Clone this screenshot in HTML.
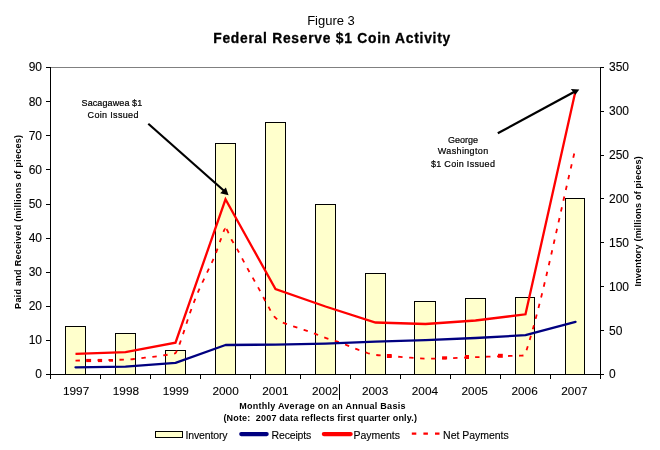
<!DOCTYPE html>
<html lang="en">
<head>
<meta charset="utf-8">
<title>Figure 3 - Federal Reserve $1 Coin Activity</title>
<style>
html,body{margin:0;padding:0;background:#fff;}
body{width:660px;height:450px;overflow:hidden;}
svg{display:block;font-family:"Liberation Sans",Arial,Helvetica,sans-serif;fill:#000;}
.ax{stroke:#000;stroke-width:1;shape-rendering:crispEdges;fill:none;}
.bar{fill:#ffffcc;stroke:#000;stroke-width:1;shape-rendering:crispEdges;}
.tk{font-size:12px;stroke:#000;stroke-width:0.1px;}
.an{font-size:9px;stroke:#000;stroke-width:0.2px;}
.bt{font-size:9px;font-weight:bold;}
.lg{font-size:10.5px;stroke:#000;stroke-width:0.12px;}
</style>
</head>
<body>
<svg width="660" height="450" viewBox="0 0 660 450">
<rect x="0" y="0" width="660" height="450" fill="#ffffff"/>

<text x="331" y="24.7" text-anchor="middle" font-size="13px">Figure 3</text>
<text x="331.7" y="42.6" text-anchor="middle" font-size="13.8px" font-weight="bold" stroke="#000" stroke-width="0.3" textLength="237" lengthAdjust="spacing">Federal Reserve $1 Coin Activity</text>
<line x1="50" y1="67.5" x2="601" y2="67.5" stroke="#808080" stroke-width="1" shape-rendering="crispEdges"/>
<rect class="bar" x="65.5" y="326.5" width="20" height="48"/>
<rect class="bar" x="115.5" y="333.5" width="20" height="41"/>
<rect class="bar" x="165.5" y="350.5" width="20" height="24"/>
<rect class="bar" x="215.5" y="143.5" width="20" height="231"/>
<rect class="bar" x="265.5" y="122.5" width="20" height="252"/>
<rect class="bar" x="315.5" y="204.5" width="20" height="170"/>
<rect class="bar" x="365.5" y="273.5" width="20" height="101"/>
<rect class="bar" x="414.5" y="301.5" width="21" height="73"/>
<rect class="bar" x="465.5" y="298.5" width="20" height="76"/>
<rect class="bar" x="515.5" y="297.5" width="19" height="77"/>
<rect class="bar" x="565.5" y="198.5" width="19" height="176"/>
<path class="ax" d="M50.5,67 V379 M600.5,67 V379 M46,374.5 H604"/>
<path class="ax" d="M46,374.5 H50.5 M46,340.5 H50.5 M46,306.5 H50.5 M46,272.5 H50.5 M46,238.5 H50.5 M46,204.5 H50.5 M46,169.5 H50.5 M46,135.5 H50.5 M46,101.5 H50.5 M46,67.5 H50.5 M600.5,374.5 H604 M600.5,330.5 H604 M600.5,286.5 H604 M600.5,242.5 H604 M600.5,198.5 H604 M600.5,155.5 H604 M600.5,111.5 H604 M600.5,67.5 H604 M100.5,374.5 V379 M150.5,374.5 V379 M200.5,374.5 V379 M250.5,374.5 V379 M300.5,374.5 V379 M350.5,374.5 V379 M400.5,374.5 V379 M450.5,374.5 V379 M500.5,374.5 V379 M550.5,374.5 V379"/>
<text class="tk" x="42" y="378.4" text-anchor="end">0</text>
<text class="tk" x="42" y="344.3" text-anchor="end">10</text>
<text class="tk" x="42" y="310.2" text-anchor="end">20</text>
<text class="tk" x="42" y="276.1" text-anchor="end">30</text>
<text class="tk" x="42" y="242.0" text-anchor="end">40</text>
<text class="tk" x="42" y="207.8" text-anchor="end">50</text>
<text class="tk" x="42" y="173.7" text-anchor="end">60</text>
<text class="tk" x="42" y="139.6" text-anchor="end">70</text>
<text class="tk" x="42" y="105.5" text-anchor="end">80</text>
<text class="tk" x="42" y="71.4" text-anchor="end">90</text>
<text class="tk" x="609" y="378.4">0</text>
<text class="tk" x="609" y="334.5">50</text>
<text class="tk" x="609" y="290.7">100</text>
<text class="tk" x="609" y="246.8">150</text>
<text class="tk" x="609" y="203.0">200</text>
<text class="tk" x="609" y="159.1">250</text>
<text class="tk" x="609" y="115.3">300</text>
<text class="tk" x="609" y="71.4">350</text>
<text class="tk" x="76.1" y="394.7" text-anchor="middle" style="font-size:11.8px">1997</text>
<text class="tk" x="125.9" y="394.7" text-anchor="middle" style="font-size:11.8px">1998</text>
<text class="tk" x="175.8" y="394.7" text-anchor="middle" style="font-size:11.8px">1999</text>
<text class="tk" x="225.6" y="394.7" text-anchor="middle" style="font-size:11.8px">2000</text>
<text class="tk" x="275.4" y="394.7" text-anchor="middle" style="font-size:11.8px">2001</text>
<text class="tk" x="325.2" y="394.7" text-anchor="middle" style="font-size:11.8px">2002</text>
<text class="tk" x="375.1" y="394.7" text-anchor="middle" style="font-size:11.8px">2003</text>
<text class="tk" x="424.9" y="394.7" text-anchor="middle" style="font-size:11.8px">2004</text>
<text class="tk" x="474.7" y="394.7" text-anchor="middle" style="font-size:11.8px">2005</text>
<text class="tk" x="524.6" y="394.7" text-anchor="middle" style="font-size:11.8px">2006</text>
<text class="tk" x="574.4" y="394.7" text-anchor="middle" style="font-size:11.8px">2007</text>
<g fill="none" stroke="#ff0000" stroke-width="1.8" stroke-dasharray="4.4 6.6" transform="translate(0,0.4)">
<path d="M75.5,360.2 C92.2,359.9 108.8,359.7 125.5,359.2 C128.3,359.1 131.2,358.9 134.0,358.6 C137.7,358.3 141.3,357.7 145.0,357.3 C148.3,356.9 151.7,356.6 155.0,356.2 C158.7,355.7 162.3,355.2 166.0,354.6 C168.0,354.3 170.0,354.0 172.0,353.6 C173.2,353.4 174.3,353.3 175.5,352.8 C176.2,352.5 176.8,350.0 177.5,348.5 C178.4,346.4 179.4,344.2 180.3,341.7 C181.3,339.1 182.3,336.0 183.3,333.0 C185.5,326.3 187.8,318.8 190.0,312.5 C192.8,304.7 195.5,297.5 198.3,291.0 C201.1,284.4 203.9,279.0 206.7,273.0 C209.5,267.0 212.2,261.7 215.0,255.0 C217.0,250.2 219.0,243.5 221.0,238.5 C222.5,234.8 224.0,228.3 225.5,228.3"/>
<path d="M225.5,228.3 C227.4,228.3 229.3,235.4 231.2,238.7 C233.2,242.3 235.3,245.4 237.3,249.0 C240.6,254.9 243.9,261.5 247.2,267.5 C250.8,274.1 254.5,280.3 258.1,287.0 C261.6,293.3 265.0,300.3 268.5,306.5 C270.4,309.8 272.2,313.8 274.1,316.0 C275.4,317.5 276.7,318.6 278.0,319.5 C279.6,320.6 281.1,321.4 282.7,322.1 C286.2,323.6 289.8,324.7 293.3,325.9 C296.9,327.1 300.4,328.3 304.0,329.5 C307.8,330.8 311.5,332.1 315.3,333.5 C318.7,334.8 322.1,336.3 325.5,337.5 C329.2,338.8 333.0,339.7 336.7,341.0 C340.2,342.2 343.8,343.6 347.3,345.0 C350.9,346.4 354.4,348.0 358.0,349.3 C361.1,350.5 364.2,351.7 367.3,352.6 C370.0,353.4 372.8,354.2 375.5,354.5 C380.3,355.1 385.2,355.3 390.0,355.7 C393.3,356.0 396.7,356.2 400.0,356.5 C403.3,356.8 406.7,357.1 410.0,357.3 C415.2,357.6 420.3,358.2 425.5,358.2 C432.0,358.2 438.5,358.2 445.0,358.1 C449.3,358.1 453.7,357.6 458.0,357.4 C463.8,357.2 469.7,357.0 475.5,356.8 C483.7,356.5 491.8,356.1 500.0,355.8 C506.7,355.6 513.3,355.5 520.0,355.3 C521.5,355.2 523.0,355.2 524.5,355.0 C525.2,354.9 525.8,352.1 526.5,350.0 C542.8,299.2 559.2,215.3 575.5,148.0" stroke-dashoffset="-1.2"/>
</g>
<rect x="86.2" y="358.9" width="4.9" height="3.2" fill="#ff0000"/>
<rect x="98" y="358.9" width="4.1" height="3.2" fill="#ff0000"/>
<rect x="109.1" y="359.3" width="3.9" height="2.4" fill="#ff0000"/>
<rect x="386.9" y="354" width="4.8" height="4" fill="#ff0000"/>
<rect x="442.1" y="356.3" width="5" height="3" fill="#ff0000"/>
<rect x="464.9" y="355" width="4.1" height="4" fill="#ff0000"/>
<rect x="498" y="353.8" width="4.8" height="4" fill="#ff0000"/>
<polyline points="75.5,367.3 125.5,366.6 175.5,362.8 225.5,345.0 275.5,344.6 325.5,343.6 375.5,341.7 425.5,340.1 475.5,338.0 525.5,335.2 575.5,321.8" fill="none" stroke="#000080" stroke-width="2.3" stroke-linejoin="round" stroke-linecap="round"/>
<polyline points="75.5,353.8 125.5,352.2 175.5,342.7 225.5,199.3 275.5,289.0 325.5,306.5 375.5,322.5 425.5,324.0 475.5,320.5 525.5,314.3 575.5,91.0" fill="none" stroke="#ff0000" stroke-width="2.3" stroke-linejoin="miter" stroke-linecap="butt"/>
<line x1="148.3" y1="123.7" x2="224" y2="190.8" stroke="#000" stroke-width="2.2"/>
<polygon points="228.6,195.2 220.2,193.3 225.9,187.4" fill="#000"/>
<line x1="497.8" y1="133.3" x2="574" y2="92" stroke="#000" stroke-width="2.2"/>
<polygon points="579.3,89.6 570.8,89.0 575.4,94.8" fill="#000"/>
<text class="an" x="111.9" y="105.9" text-anchor="middle" textLength="60.7" lengthAdjust="spacing">Sacagawea $1</text>
<text class="an" x="113" y="117.7" text-anchor="middle" textLength="50.9" lengthAdjust="spacing">Coin Issued</text>
<text class="an" x="463.1" y="142.7" text-anchor="middle">George</text>
<text class="an" x="463" y="154.2" text-anchor="middle" textLength="50.5" lengthAdjust="spacing">Washington</text>
<text class="an" x="462.9" y="166.7" text-anchor="middle" textLength="64" lengthAdjust="spacing">$1 Coin Issued</text>
<text class="bt" transform="translate(21.3,221.9) rotate(-90)" text-anchor="middle" textLength="174" lengthAdjust="spacing">Paid and Received (millions of pieces)</text>
<text class="bt" transform="translate(640.8,221.4) rotate(-90)" text-anchor="middle" textLength="130.3" lengthAdjust="spacing">Inventory (millions of pieces)</text>
<text class="bt" x="322.3" y="409.1" text-anchor="middle" textLength="166.3" lengthAdjust="spacing">Monthly Average on an Annual Basis</text>
<text class="bt" x="320.2" y="420.5" text-anchor="middle" textLength="193.5" lengthAdjust="spacing" xml:space="preserve" style="white-space:pre">(Note:  2007 data reflects first quarter only.)</text>
<rect x="339" y="384" width="1" height="16" fill="#000" shape-rendering="crispEdges"/>
<rect class="bar" x="155.5" y="431.5" width="27" height="6"/>
<text class="lg" x="185.5" y="438.6" textLength="42" lengthAdjust="spacing">Inventory</text>
<line x1="241.2" y1="434.1" x2="266.7" y2="434.1" stroke="#000080" stroke-width="4.1" stroke-linecap="round"/>
<text class="lg" x="271.5" y="438.6" textLength="39.8" lengthAdjust="spacing">Receipts</text>
<line x1="323.8" y1="434.1" x2="350.7" y2="434.1" stroke="#ff0000" stroke-width="4.1" stroke-linecap="round"/>
<text class="lg" x="353.6" y="438.6" textLength="46.4" lengthAdjust="spacing">Payments</text>
<line x1="411.8" y1="433.7" x2="440" y2="433.7" stroke="#ff0000" stroke-width="2.2" stroke-dasharray="4.5 7.1"/>
<text class="lg" x="443.1" y="438.6" textLength="65.6" lengthAdjust="spacing">Net Payments</text>
</svg>
</body>
</html>
